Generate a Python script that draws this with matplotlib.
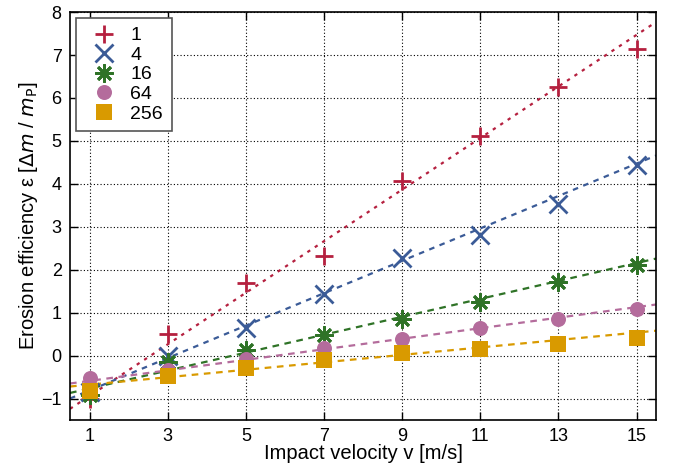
import matplotlib
matplotlib.use("Agg")
import matplotlib.pyplot as plt
import numpy as np

plt.rcParams['font.family'] = ['Liberation Sans', 'DejaVu Sans']
plt.rcParams['mathtext.fontset'] = 'dejavusans'

velocity = [1, 3, 5, 7, 9, 11, 13, 15]
labels = ['1', '4', '16', '64', '256']
eff_1 = [-1.00, 0.50, 1.70, 2.33, 4.07, 5.12, 6.25, 7.13]
eff_4 = [-0.85, -0.01, 0.65, 1.43, 2.28, 2.82, 3.53, 4.43]
eff_16 = [-0.92, -0.16, 0.14, 0.47, 0.85, 1.24, 1.71, 2.10]
eff_64 = [-0.52, -0.33, -0.09, 0.18, 0.39, 0.64, 0.86, 1.09]
eff_256 = [-0.83, -0.48, -0.29, -0.11, 0.06, 0.16, 0.27, 0.41]
series = [eff_1, eff_4, eff_16, eff_64, eff_256]

fit_x = [0.5, 15.5]
fit_1 = [-1.24, 7.77]
fit_4 = [-1.00, 4.66]
fit_16 = [-0.87, 2.26]
fit_64 = [-0.65, 1.19]
fit_256 = [-0.72, 0.58]
fits = [fit_1, fit_4, fit_16, fit_64, fit_256]

colors = ['#b5203f', '#3b5b97', '#2f7327', '#b46c9c', '#d99a00']
markers = ['+', 'x', (8, 2, 0), 'o', 's']
msizes = [13.5, 12.5, 13, 10.8, 11]
dashes = [(1.5, 2.5), (2.5, 2.5), (3, 2.5), (3, 2.5), (3, 2.5)]

fig = plt.figure(figsize=(6.75, 4.66), dpi=100)
ax = fig.add_axes([0.1037, 0.0987, 0.8683, 0.8753])

for s, f, c, m, ms, d, lab in zip(series, fits, colors, markers, msizes, dashes, labels):
    ax.plot(fit_x, f, color=c, lw=1.6, dashes=d, zorder=2)
    filled = m in ('o', 's')
    ax.plot(velocity, s, linestyle='none', marker=m, markersize=ms,
            color=c, markeredgewidth=0 if filled else 2.0, label=lab, zorder=3)

ax.set_xlim(0.5, 15.5)
ax.set_ylim(-1.5, 8)
ax.set_xticks(velocity)
ax.set_yticks(range(-1, 9))
ax.set_yticklabels(['\u22121'] + [str(i) for i in range(0, 9)])
ax.grid(True, color='black', linestyle=(0, (1, 2)), linewidth=0.8)
ax.tick_params(direction='in', top=True, right=True, length=6, width=1,
               labelsize=13, pad=6)
for sp in ax.spines.values():
    sp.set_linewidth(1.2)

ax.set_xlabel('Impact velocity v [m/s]', fontsize=14.5, labelpad=-1)
ax.set_ylabel(r'Erosion efficiency ε [$\Delta m$ / $m_\mathrm{P}$]', fontsize=14.5, labelpad=1)

leg = ax.legend(loc='upper left', fontsize=14, frameon=True, fancybox=False,
                edgecolor='#555555', framealpha=1, handletextpad=0.35,
                borderpad=0.45, labelspacing=0.1, handlelength=2.0,
                borderaxespad=0.3)
leg.get_frame().set_linewidth(1.2)

fig.savefig('out.png', dpi=100)
